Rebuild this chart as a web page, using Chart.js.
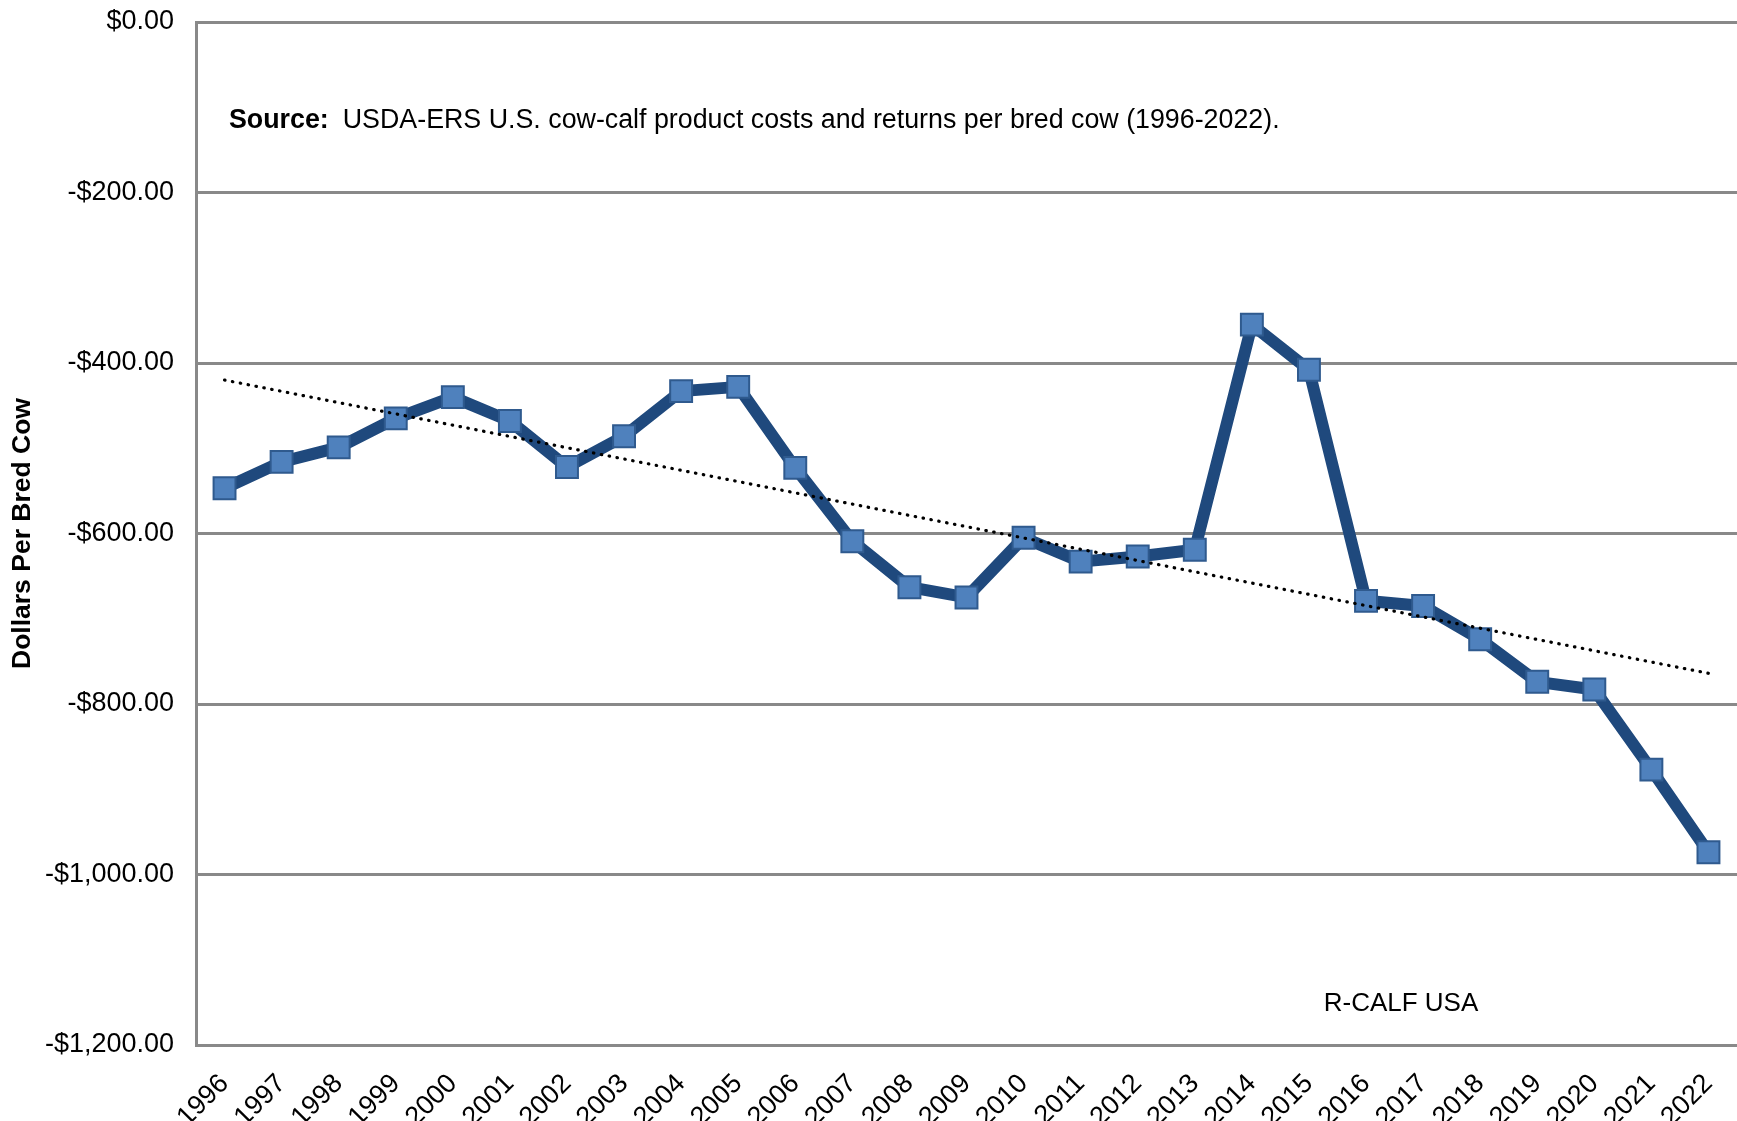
<!DOCTYPE html>
<html>
<head>
<meta charset="utf-8">
<script src="https://cdn.jsdelivr.net/npm/chart.js@4/dist/chart.umd.min.js"></script>
<style>
  html, body { margin: 0; padding: 0; background: #fff; }
  #wrap { width: 1737px; height: 1121px; position: relative; }
</style>
</head>
<body>
<div id="wrap"><canvas id="graph"></canvas></div>
<script>
const years = ['1996','1997','1998','1999','2000','2001','2002','2003','2004','2005','2006','2007','2008','2009',
               '2010','2011','2012','2013','2014','2015','2016','2017','2018','2019','2020','2021','2022'];

// returns per bred cow, dollars
const returnsPerCow = [-547, -516, -499, -465, -440, -468, -522, -486, -433, -428, -523, -609, -663, -675,
                       -605, -633, -627, -619, -355, -408, -679, -685, -724, -774, -783, -877, -974];

// dotted linear trend, end points as drawn
const trendYears = ['1996', '2022'];
const trendValues = [-420, -764];

const yTicks = { min: -1200, max: 0, step: 200 };

const sourceBold = 'Source:';
const sourceText = 'USDA-ERS U.S. cow-calf product costs and returns per bred cow (1996-2022).';
const creditText = 'R-CALF USA';

const FONT = '"Liberation Sans", Arial, sans-serif';
const GRID = '#898989';

function money(v) {
    let s = '$' + Math.abs(v).toLocaleString('en-US', { minimumFractionDigits: 2, maximumFractionDigits: 2 });
    return v < 0 ? '-' + s : s;
}

// note text inside the plot
const notes = {
    id: 'notes',
    afterDraw(chart) {
        let ctx = chart.ctx;
        ctx.save();
        ctx.fillStyle = '#000';
        ctx.textBaseline = 'middle';
        ctx.textAlign = 'left';
        ctx.font = 'bold 26.8px ' + FONT;
        let x = 229;
        ctx.fillText(sourceBold, x, 121);
        x += ctx.measureText(sourceBold).width + 14;
        ctx.font = '26.8px ' + FONT;
        ctx.fillText(sourceText, x, 121);
        ctx.font = '26px ' + FONT;
        ctx.textAlign = 'center';
        ctx.fillText(creditText, 1401, 1004);
        ctx.restore();
    }
};

const config = {
    type: 'line',
    data: {
        labels: years,
        datasets: [{
            label: 'Trend',
            data: trendYears.map((y, i) => ({ x: y, y: trendValues[i] })),
            borderColor: '#000',
            borderWidth: 3.2,
            borderDash: [0.5, 7.5],
            borderCapStyle: 'round',
            pointRadius: 0,
            fill: false,
            order: 0
        }, {
            label: 'Returns per bred cow',
            data: returnsPerCow,
            borderColor: '#1F497D',
            borderWidth: 12,
            borderJoinStyle: 'round',
            pointStyle: 'rect',
            pointRadius: 15.5,
            pointBackgroundColor: '#4F81BD',
            pointBorderColor: '#2F5A8E',
            pointBorderWidth: 2,
            fill: false,
            tension: 0,
            order: 1
        }]
    },
    options: {
        responsive: true,
        maintainAspectRatio: false,
        animation: false,
        layout: { autoPadding: false, padding: { top: 22, right: 0, bottom: 0, left: 0 } },
        plugins: { legend: { display: false }, tooltip: { enabled: false } },
        scales: {
            x: {
                type: 'category',
                offset: true,
                grid: { display: false, drawTicks: false },
                border: { display: false },
                ticks: {
                    color: '#000',
                    font: { family: FONT, size: 27 },
                    minRotation: 45,
                    maxRotation: 45,
                    padding: 23,
                    autoSkip: false
                },
                afterFit(scale) {
                    scale.height = 76;
                    scale.paddingLeft = 0;
                    scale.paddingRight = 0;
                }
            },
            y: {
                min: yTicks.min,
                max: yTicks.max,
                grid: { color: GRID, lineWidth: 3, drawTicks: false },
                border: { display: true, color: GRID, width: 3 },
                ticks: {
                    stepSize: yTicks.step,
                    color: '#000',
                    font: { family: FONT, size: 27 },
                    padding: 22,
                    callback: v => money(v)
                },
                title: {
                    display: true,
                    text: 'Dollars Per Bred Cow',
                    color: '#000',
                    font: { family: FONT, size: 26.5, weight: 'bold' },
                    padding: { top: 7, bottom: 0 }
                },
                afterFit(scale) {
                    scale.width = 196;
                    scale.paddingTop = 0;
                    scale.paddingBottom = 0;
                }
            }
        }
    },
    plugins: [notes]
};

new Chart('graph', config);
</script>
</body>
</html>
